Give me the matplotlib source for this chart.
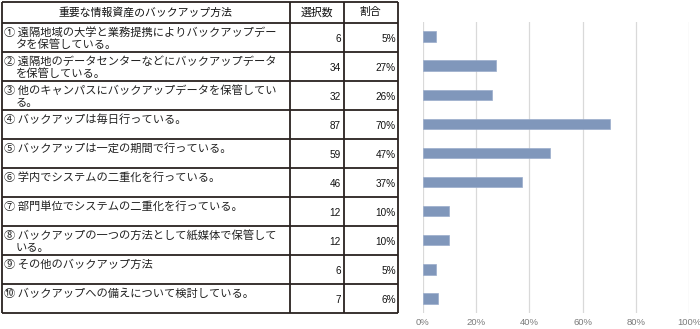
import matplotlib
matplotlib.use("Agg")
import matplotlib.pyplot as plt
from matplotlib.ticker import PercentFormatter

plt.rcParams['font.family'] = ['Noto Sans CJK JP', 'DejaVu Sans']

header_method = "重要な情報資産のバックアップ方法"
header_count = "選択数"
header_ratio = "割合"

methods = [
    "① 遠隔地域の大学と業務提携によりバックアップデー\nタを保管している。",
    "② 遠隔地のデータセンターなどにバックアップデータ\nを保管している。",
    "③ 他のキャンパスにバックアップデータを保管してい\nる。",
    "④ バックアップは毎日行っている。",
    "⑤ バックアップは一定の期間で行っている。",
    "⑥ 学内でシステムの二重化を行っている。",
    "⑦ 部門単位でシステムの二重化を行っている。",
    "⑧ バックアップの一つの方法として紙媒体で保管して\nいる。",
    "⑨ その他のバックアップ方法",
    "⑩ バックアップへの備えについて検討している。",
]
counts = [6, 34, 32, 87, 59, 46, 12, 12, 6, 7]
ratio_labels = ["5%", "27%", "26%", "70%", "47%", "37%", "10%", "10%", "5%", "6%"]
ratios = [4.8, 27.4, 25.8, 70.2, 47.6, 37.1, 9.7, 9.7, 4.8, 5.6]
xticks = [0, 20, 40, 60, 80, 100]

W, H = 700, 329
fig = plt.figure(figsize=(W / 100, H / 100), dpi=100)

# ---- table drawn in pixel coordinates ----
tab = fig.add_axes([0, 0, 1, 1])
tab.set_xlim(0, W)
tab.set_ylim(H, 0)
tab.axis('off')

x_left, x_c1, x_c2, x_right = 1.5, 290, 344, 397.5
y_top, y_head = 2, 22.5
y_bottom = 313
n = len(methods)
row_h = (y_bottom - y_head) / n
line_kw = dict(color='#2a2220', lw=1.3, solid_capstyle='butt')

# horizontal lines
tab.plot([x_left, x_right], [y_top, y_top], **line_kw)
for i in range(n + 1):
    y = y_head + i * row_h
    tab.plot([x_left, x_right], [y, y], **line_kw)
# vertical lines
for x in (x_left, x_c1, x_c2, x_right):
    tab.plot([x, x], [y_top, y_bottom], **line_kw)

# header
tab.text((x_left + x_c1) / 2, 12.5, header_method, ha='center', va='center', fontsize=7.8, color='#111111')
tab.text((x_c1 + x_c2) / 2, 12.5, header_count, ha='center', va='center', fontsize=7.8, color='#111111')
tab.text((x_c2 + x_right) / 2, 12.5, header_ratio, ha='center', va='center', fontsize=7.8, color='#111111')

for i, (m, c, r) in enumerate(zip(methods, counts, ratio_labels)):
    top = y_head + i * row_h
    lines = m.split("\n")
    for j, ln in enumerate(lines):
        x = 3.5 if j == 0 else 16
        tab.text(x, top + 9.5 + j * 13, ln, ha='left', va='center', fontsize=8.1, color='#222222')
    tab.text(x_c2 - 3, top + row_h / 2 + 1.5, str(c), ha='right', va='center', fontsize=7.2,
             family=['Liberation Sans', 'DejaVu Sans'], color='#111111')
    tab.text(x_right - 1.5, top + row_h / 2 + 1.5, r, ha='right', va='center', fontsize=7.2,
             family=['Liberation Sans', 'DejaVu Sans'], color='#111111')

# ---- bar chart ----
ax = fig.add_axes([423 / W, (H - y_bottom) / H, (689 - 423) / W, (y_bottom - 22) / H])
ypos = list(range(n))
ax.barh(ypos, ratios, height=0.36, color='#8097bb', edgecolor='#9aaccb', linewidth=0.5, zorder=3)
ax.set_xlim(0, 100)
ax.set_ylim(n - 0.5, -0.5)
ax.set_xticks(xticks)
ax.xaxis.set_major_formatter(PercentFormatter(decimals=0))
ax.set_yticks([])
ax.grid(axis='x', color='#d9d9d9', lw=0.9, zorder=0)
for s in ax.spines.values():
    s.set_visible(False)
ax.tick_params(axis='x', length=0, pad=3.5, labelsize=6.8, labelcolor='#7a7a7a')
for lbl in ax.get_xticklabels():
    lbl.set_family(['Liberation Sans', 'DejaVu Sans'])

fig.savefig("out.png", dpi=100)
